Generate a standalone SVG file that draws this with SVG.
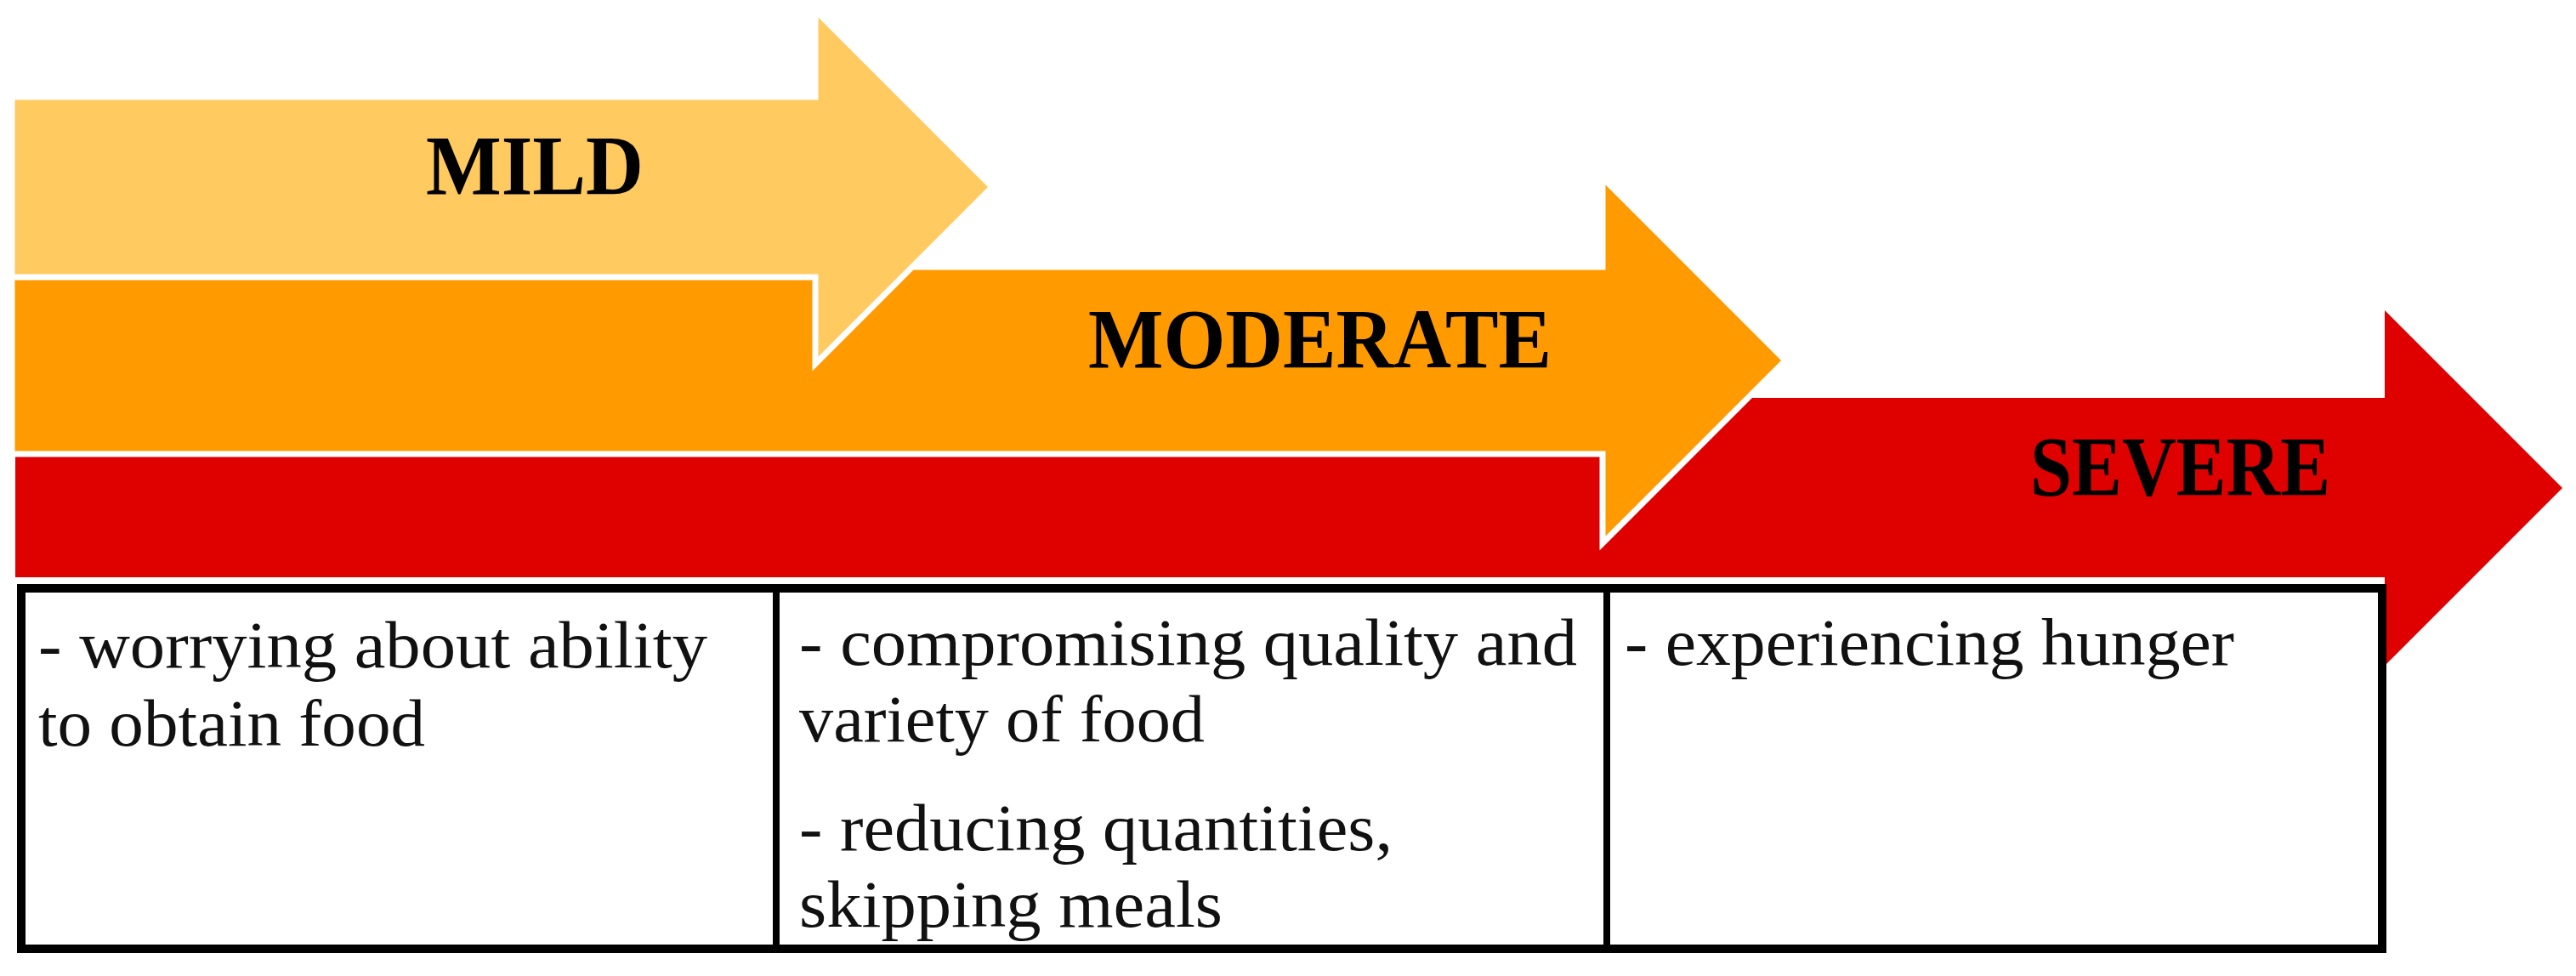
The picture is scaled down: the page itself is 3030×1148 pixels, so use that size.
<svg xmlns="http://www.w3.org/2000/svg" width="3030" height="1148" viewBox="0 0 3030 1148">
<style>
.lbl{font-family:"Liberation Serif","DejaVu Serif",serif;font-weight:bold;font-size:100px;fill:#000}
.txt{font-family:"Liberation Serif","DejaVu Serif",serif;font-size:78px;fill:#111}
.out{stroke:#fff;stroke-width:7;stroke-linejoin:miter;stroke-miterlimit:10}
</style>
<rect width="3030" height="1148" fill="#fff"/>
<g id="severe">
<polygon points="18,468 2805,468 2805,365 3014,574 2805,783 2805,679 18,679" fill="#DF0000"/>
<text class="lbl" x="2388" y="582" textLength="353" lengthAdjust="spacingAndGlyphs">SEVERE</text>
</g>
<g id="moderate">
<polygon class="out" points="14,314 1885,314 1885,209 2100,424 1885,639 1885,534 14,534" fill="#FF9A00"/>
<text class="lbl" x="1280" y="432" textLength="545" lengthAdjust="spacingAndGlyphs">MODERATE</text>
</g>
<g id="mild">
<polygon class="out" points="14,114 959,114 959,12 1167,220 959,428 959,326 14,326" fill="#FFCA60"/>
<text class="lbl" x="501" y="228" textLength="256" lengthAdjust="spacingAndGlyphs">MILD</text>
</g>
<g id="table">
<rect x="25" y="692" width="2777" height="424" fill="#fff"/>
<g id="cell-mild">
<text class="txt" x="45" y="785" textLength="787" lengthAdjust="spacingAndGlyphs">- worrying about ability</text>
<text class="txt" x="45" y="877" textLength="455" lengthAdjust="spacingAndGlyphs">to obtain food</text>
</g>
<g id="cell-moderate">
<text class="txt" x="940" y="782" textLength="915" lengthAdjust="spacingAndGlyphs">- compromising quality and</text>
<text class="txt" x="940" y="872" textLength="477" lengthAdjust="spacingAndGlyphs">variety of food</text>
<text class="txt" x="940" y="1000" textLength="698" lengthAdjust="spacingAndGlyphs">- reducing quantities,</text>
<text class="txt" x="940" y="1090" textLength="498" lengthAdjust="spacingAndGlyphs">skipping meals</text>
</g>
<g id="cell-severe">
<text class="txt" x="1911" y="782" textLength="717" lengthAdjust="spacingAndGlyphs">- experiencing hunger</text>
</g>
<line x1="913" y1="692" x2="913" y2="1116" stroke="#000" stroke-width="8"/>
<line x1="1890" y1="692" x2="1890" y2="1116" stroke="#000" stroke-width="8"/>
<rect x="25" y="692" width="2777" height="424" fill="none" stroke="#000" stroke-width="10"/>
</g>
</svg>
